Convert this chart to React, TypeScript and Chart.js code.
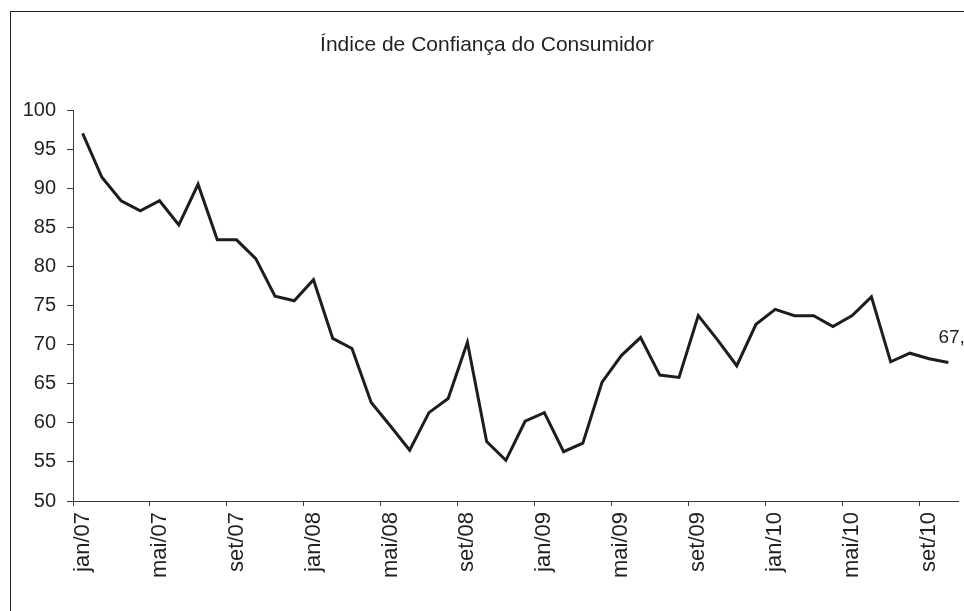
import { useEffect, useRef } from "react";
import { Chart, registerables } from "chart.js";

Chart.register(...registerables);

const TITLE = "Índice de Confiança do Consumidor";
const MONTHS = ["jan", "fev", "mar", "abr", "mai", "jun", "jul", "ago", "set", "out", "nov", "dez"];
const YEARS = ["07", "08", "09", "10"];
const N_POINTS = 46;
const CATEGORIES: string[] = [];
for (const y of YEARS) for (const m of MONTHS) CATEGORIES.push(`${m}/${y}`);
CATEGORIES.length = N_POINTS;

const VALUES = [
  97.0, 91.4, 88.4, 87.1, 88.4, 85.3, 90.5, 83.4, 83.4, 81.0, 76.2, 75.6,
  78.3, 70.8, 69.5, 62.6, 59.6, 56.5, 61.3, 63.1, 70.3, 57.6, 55.2, 60.2,
  61.3, 56.3, 57.4, 65.2, 68.6, 70.9, 66.1, 65.8, 73.7, 70.6, 67.3, 72.6,
  74.5, 73.7, 73.7, 72.3, 73.7, 76.1, 67.8, 68.9, 68.2, 67.7,
];

const Y_MIN = 50;
const Y_MAX = 100;
const Y_STEP = 5;
const LABEL_EVERY = 4;

const FONT = "'Liberation Sans', Arial, sans-serif";
const TEXT = "#231f20";
const AXIS = "#3a3a3a";

const decor = {
  id: "decor",
  beforeDraw(chart: any) {
    const ctx = chart.ctx;
    ctx.save();
    ctx.fillStyle = "#ffffff";
    ctx.fillRect(0, 0, chart.width, chart.height);
    ctx.strokeStyle = "#222";
    ctx.lineWidth = 1;
    ctx.strokeRect(10.5, 11.5, 2000, 2000);
    ctx.fillStyle = TEXT;
    ctx.font = `21px ${FONT}`;
    ctx.textAlign = "center";
    ctx.textBaseline = "middle";
    ctx.fillText(TITLE, 487, 45);
    ctx.restore();
  },
  afterDatasetsDraw(chart: any) {
    const meta = chart.getDatasetMeta(0);
    const last = meta.data[meta.data.length - 1];
    if (!last) return;
    const v = VALUES[VALUES.length - 1];
    const ctx = chart.ctx;
    ctx.save();
    ctx.fillStyle = TEXT;
    ctx.font = `19px ${FONT}`;
    ctx.textAlign = "left";
    ctx.textBaseline = "middle";
    ctx.fillText(v.toFixed(1).replace(".", ","), last.x - 10, last.y - 25);
    ctx.restore();
  },
};

export default function App() {
  const ref = useRef<HTMLCanvasElement | null>(null);
  useEffect(() => {
    if (!ref.current) return;
    const chart = new Chart(ref.current, {
      type: "line",
      data: {
        labels: CATEGORIES,
        datasets: [
          {
            data: VALUES,
            borderColor: "#1e1c1c",
            borderWidth: 3,
            pointRadius: 0,
            tension: 0,
            fill: false,
          },
        ],
      },
      options: {
        animation: false,
        responsive: false,
        devicePixelRatio: 1,
        layout: { padding: { left: 0, right: 6, top: 110, bottom: 0 } },
        plugins: {
          legend: { display: false },
          title: { display: false },
          tooltip: { enabled: false },
        },
        scales: {
          x: {
            type: "category",
            offset: true,
            afterFit: (s: any) => {
              s.height = 110;
              s.paddingLeft = 0;
              s.paddingRight = 0;
            },
            grid: {
              offset: true,
              drawOnChartArea: false,
              drawTicks: true,
              tickLength: 5,
              tickColor: (c: any) => (c.index % LABEL_EVERY === 0 ? AXIS : "rgba(0,0,0,0)"),
              color: "rgba(0,0,0,0)",
            },
            border: { display: true, color: AXIS, width: 1 },
            ticks: {
              autoSkip: false,
              minRotation: 90,
              maxRotation: 90,
              padding: 6,
              color: TEXT,
              font: { family: FONT, size: 22 },
              callback: (_v: any, i: number) => (i % LABEL_EVERY === 0 ? CATEGORIES[i] : ""),
            },
          },
          y: {
            min: Y_MIN,
            max: Y_MAX,
            afterFit: (s: any) => {
              s.width = 73;
            },
            grid: {
              drawOnChartArea: false,
              drawTicks: true,
              tickLength: 6,
              tickColor: AXIS,
              color: "rgba(0,0,0,0)",
            },
            border: { display: true, color: AXIS, width: 1 },
            ticks: {
              stepSize: Y_STEP,
              padding: 11,
              color: TEXT,
              font: { family: FONT, size: 20 },
            },
          },
        },
      },
      plugins: [decor],
    });
    return () => chart.destroy();
  }, []);

  return (
    <div style={{ position: "fixed", left: 0, top: 0, width: 964, height: 611, overflow: "hidden", background: "#fff" }}>
      <canvas ref={ref} width={964} height={611} style={{ display: "block" }} />
    </div>
  );
}
